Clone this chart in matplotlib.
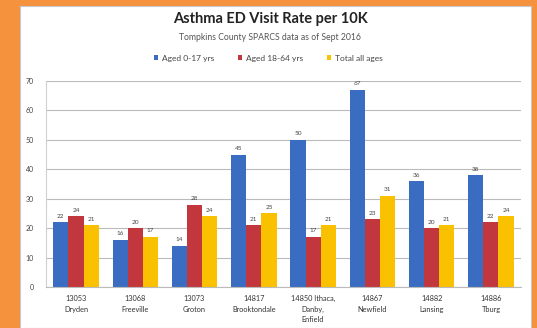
import matplotlib.pyplot as plt
import numpy as np

plt.rcParams["font.family"] = ["Lato", "DejaVu Sans"]

categories = ["13053\nDryden", "13068\nFreeville", "13073\nGroton", "14817\nBrooktondale",
              "14850 Ithaca,\nDanby,\nEnfield", "14867\nNewfield", "14882\nLansing", "14886\nTburg"]
series_names = ["Aged 0-17 yrs", "Aged 18-64 yrs", "Total all ages"]
aged_0_17 = [22, 16, 14, 45, 50, 67, 36, 38]
aged_18_64 = [24, 20, 28, 21, 17, 23, 20, 22]
total_all = [21, 17, 24, 25, 21, 31, 21, 24]
y_ticks = [0, 10, 20, 30, 40, 50, 60, 70]

colors = ["#3A6DC2", "#C2373D", "#F9C100"]

fig = plt.figure(figsize=(5.37, 3.28), dpi=100)
fig.patch.set_facecolor("#F5923E")

# white chart panel behind everything
panel = fig.add_axes([20 / 537, 0, 511 / 537, 322 / 328], zorder=0)
panel.set_facecolor("white")
panel.set_xticks([])
panel.set_yticks([])
for s in panel.spines.values():
    s.set_color("#C8C8C8")
    s.set_linewidth(0.8)

ax = fig.add_axes([0.0864, 0.125, 0.883, 0.628], zorder=1)
ax.set_facecolor("none")

x = np.arange(len(categories))
width = 0.255
for i, (vals, name, c) in enumerate(zip([aged_0_17, aged_18_64, total_all], series_names, colors)):
    bars = ax.bar(x + (i - 1) * width, vals, width, color=c, label=name, zorder=2)
    for b, v in zip(bars, vals):
        ax.text(b.get_x() + b.get_width() / 2, v + 1.2, str(v), ha="center", va="bottom",
                fontsize=4.6, color="#444444")

ax.set_xlim(-0.5, len(categories) - 0.5)
ax.set_ylim(0, 70)
ax.set_yticks(y_ticks)
ax.tick_params(axis="y", labelsize=5, colors="#444444", length=0, pad=9)
ax.set_xticks(x)
ax.set_xticklabels(categories, fontsize=5.3, color="#333333", linespacing=1.55)
ax.tick_params(axis="x", length=0, pad=6)
ax.grid(axis="y", color="#BBBBBB", linewidth=0.8, zorder=0)
for side in ["top", "right"]:
    ax.spines[side].set_visible(False)
ax.spines["left"].set_color("#D0D0D0")
ax.spines["bottom"].set_color("#BBBBBB")

fig.text(0.503, 0.942, "Asthma ED Visit Rate per 10K", ha="center", va="center",
         fontsize=10.5, fontweight="bold", color="#222222", zorder=3)
fig.text(0.503, 0.885, "Tompkins County SPARCS data as of Sept 2016", ha="center", va="center",
         fontsize=6.2, color="#555555", zorder=3)
leg = fig.legend(loc="center", bbox_to_anchor=(0.5, 0.823), ncol=3, frameon=False, fontsize=6,
                 handlelength=0.5, handleheight=0.5, handletextpad=0.5, columnspacing=2.8,
                 labelcolor="#444444")
leg.set_zorder(3)

fig.savefig("out.png", dpi=100, facecolor=fig.get_facecolor())
